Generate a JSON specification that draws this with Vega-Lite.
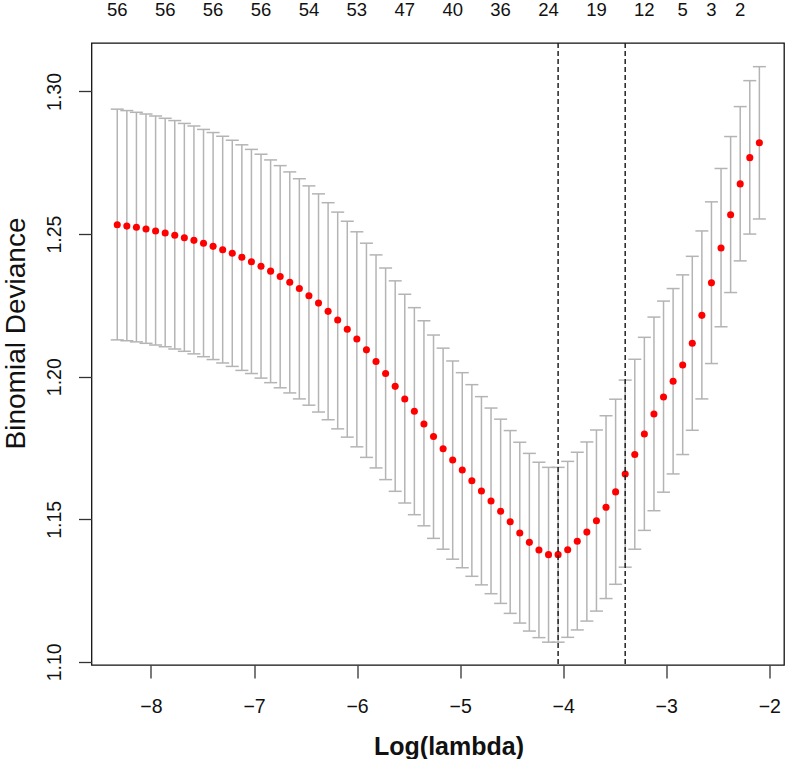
{
  "$schema": "https://vega.github.io/schema/vega-lite/v6.json",
  "width": 692.5,
  "height": 622,
  "autosize": {"type": "none"},
  "padding": {"left": 91.5, "top": 43, "right": 2, "bottom": 94},
  "background": "white",
  "config": {
    "font": "Liberation Sans",
    "view": {"stroke": "#111", "strokeWidth": 1.3},
    "axis": {"grid": false, "domain": false, "labelColor": "#111", "titleColor": "#111", "tickColor": "#333", "tickWidth": 1.3}
  },
  "datasets": {
    "cv": [
      {"loglambda": -8.327, "cvm": 1.2533, "cvup": 1.2938, "cvlo": 1.2129},
      {"loglambda": -8.234, "cvm": 1.2528, "cvup": 1.2933, "cvlo": 1.2126},
      {"loglambda": -8.141, "cvm": 1.2524, "cvup": 1.2927, "cvlo": 1.2122},
      {"loglambda": -8.048, "cvm": 1.2518, "cvup": 1.2921, "cvlo": 1.2117},
      {"loglambda": -7.955, "cvm": 1.2511, "cvup": 1.2914, "cvlo": 1.2111},
      {"loglambda": -7.862, "cvm": 1.2504, "cvup": 1.2906, "cvlo": 1.2105},
      {"loglambda": -7.769, "cvm": 1.2496, "cvup": 1.2898, "cvlo": 1.2097},
      {"loglambda": -7.676, "cvm": 1.2487, "cvup": 1.2888, "cvlo": 1.2089},
      {"loglambda": -7.583, "cvm": 1.2478, "cvup": 1.2879, "cvlo": 1.2080},
      {"loglambda": -7.490, "cvm": 1.2468, "cvup": 1.2867, "cvlo": 1.2070},
      {"loglambda": -7.397, "cvm": 1.2457, "cvup": 1.2856, "cvlo": 1.2060},
      {"loglambda": -7.304, "cvm": 1.2445, "cvup": 1.2843, "cvlo": 1.2048},
      {"loglambda": -7.211, "cvm": 1.2433, "cvup": 1.2829, "cvlo": 1.2036},
      {"loglambda": -7.118, "cvm": 1.2419, "cvup": 1.2813, "cvlo": 1.2022},
      {"loglambda": -7.025, "cvm": 1.2403, "cvup": 1.2797, "cvlo": 1.2011},
      {"loglambda": -6.932, "cvm": 1.2387, "cvup": 1.2780, "cvlo": 1.1995},
      {"loglambda": -6.839, "cvm": 1.2370, "cvup": 1.2760, "cvlo": 1.1979},
      {"loglambda": -6.746, "cvm": 1.2351, "cvup": 1.2740, "cvlo": 1.1961},
      {"loglambda": -6.653, "cvm": 1.2331, "cvup": 1.2718, "cvlo": 1.1943},
      {"loglambda": -6.560, "cvm": 1.2309, "cvup": 1.2694, "cvlo": 1.1922},
      {"loglambda": -6.467, "cvm": 1.2284, "cvup": 1.2669, "cvlo": 1.1900},
      {"loglambda": -6.374, "cvm": 1.2258, "cvup": 1.2641, "cvlo": 1.1876},
      {"loglambda": -6.281, "cvm": 1.2229, "cvup": 1.2610, "cvlo": 1.1849},
      {"loglambda": -6.188, "cvm": 1.2199, "cvup": 1.2577, "cvlo": 1.1817},
      {"loglambda": -6.095, "cvm": 1.2166, "cvup": 1.2545, "cvlo": 1.1788},
      {"loglambda": -6.002, "cvm": 1.2132, "cvup": 1.2508, "cvlo": 1.1754},
      {"loglambda": -5.909, "cvm": 1.2094, "cvup": 1.2468, "cvlo": 1.1717},
      {"loglambda": -5.816, "cvm": 1.2053, "cvup": 1.2427, "cvlo": 1.1680},
      {"loglambda": -5.723, "cvm": 1.2011, "cvup": 1.2381, "cvlo": 1.1639},
      {"loglambda": -5.630, "cvm": 1.1966, "cvup": 1.2336, "cvlo": 1.1598},
      {"loglambda": -5.537, "cvm": 1.1922, "cvup": 1.2289, "cvlo": 1.1557},
      {"loglambda": -5.444, "cvm": 1.1879, "cvup": 1.2242, "cvlo": 1.1516},
      {"loglambda": -5.351, "cvm": 1.1834, "cvup": 1.2196, "cvlo": 1.1477},
      {"loglambda": -5.258, "cvm": 1.1790, "cvup": 1.2146, "cvlo": 1.1433},
      {"loglambda": -5.165, "cvm": 1.1747, "cvup": 1.2100, "cvlo": 1.1395},
      {"loglambda": -5.072, "cvm": 1.1708, "cvup": 1.2055, "cvlo": 1.1360},
      {"loglambda": -4.979, "cvm": 1.1673, "cvup": 1.2014, "cvlo": 1.1330},
      {"loglambda": -4.886, "cvm": 1.1635, "cvup": 1.1972, "cvlo": 1.1300},
      {"loglambda": -4.793, "cvm": 1.1599, "cvup": 1.1930, "cvlo": 1.1270},
      {"loglambda": -4.700, "cvm": 1.1564, "cvup": 1.1890, "cvlo": 1.1239},
      {"loglambda": -4.607, "cvm": 1.1528, "cvup": 1.1851, "cvlo": 1.1205},
      {"loglambda": -4.514, "cvm": 1.1491, "cvup": 1.1811, "cvlo": 1.1170},
      {"loglambda": -4.421, "cvm": 1.1452, "cvup": 1.1770, "cvlo": 1.1136},
      {"loglambda": -4.328, "cvm": 1.1419, "cvup": 1.1731, "cvlo": 1.1108},
      {"loglambda": -4.235, "cvm": 1.1392, "cvup": 1.1700, "cvlo": 1.1085},
      {"loglambda": -4.142, "cvm": 1.1376, "cvup": 1.1682, "cvlo": 1.1069},
      {"loglambda": -4.049, "cvm": 1.1376, "cvup": 1.1682, "cvlo": 1.1069},
      {"loglambda": -3.956, "cvm": 1.1393, "cvup": 1.1703, "cvlo": 1.1086},
      {"loglambda": -3.863, "cvm": 1.1423, "cvup": 1.1735, "cvlo": 1.1112},
      {"loglambda": -3.770, "cvm": 1.1455, "cvup": 1.1771, "cvlo": 1.1143},
      {"loglambda": -3.677, "cvm": 1.1495, "cvup": 1.1813, "cvlo": 1.1178},
      {"loglambda": -3.584, "cvm": 1.1542, "cvup": 1.1863, "cvlo": 1.1222},
      {"loglambda": -3.491, "cvm": 1.1596, "cvup": 1.1921, "cvlo": 1.1272},
      {"loglambda": -3.398, "cvm": 1.1659, "cvup": 1.1988, "cvlo": 1.1332},
      {"loglambda": -3.305, "cvm": 1.1727, "cvup": 1.2061, "cvlo": 1.1395},
      {"loglambda": -3.212, "cvm": 1.1799, "cvup": 1.2138, "cvlo": 1.1461},
      {"loglambda": -3.119, "cvm": 1.1869, "cvup": 1.2209, "cvlo": 1.1530},
      {"loglambda": -3.026, "cvm": 1.1929, "cvup": 1.2265, "cvlo": 1.1595},
      {"loglambda": -2.933, "cvm": 1.1984, "cvup": 1.2309, "cvlo": 1.1659},
      {"loglambda": -2.840, "cvm": 1.2041, "cvup": 1.2357, "cvlo": 1.1727},
      {"loglambda": -2.747, "cvm": 1.2117, "cvup": 1.2422, "cvlo": 1.1812},
      {"loglambda": -2.654, "cvm": 1.2215, "cvup": 1.2511, "cvlo": 1.1922},
      {"loglambda": -2.561, "cvm": 1.2329, "cvup": 1.2613, "cvlo": 1.2046},
      {"loglambda": -2.468, "cvm": 1.2451, "cvup": 1.2730, "cvlo": 1.2175},
      {"loglambda": -2.375, "cvm": 1.2568, "cvup": 1.2842, "cvlo": 1.2295},
      {"loglambda": -2.282, "cvm": 1.2676, "cvup": 1.2947, "cvlo": 1.2406},
      {"loglambda": -2.189, "cvm": 1.2768, "cvup": 1.3038, "cvlo": 1.2500},
      {"loglambda": -2.096, "cvm": 1.2820, "cvup": 1.3087, "cvlo": 1.2553}
    ],
    "selected": [
      {"loglambda": -4.049, "which": "lambda.min"},
      {"loglambda": -3.398, "which": "lambda.1se"}
    ],
    "nonzero": [
      {"loglambda": -8.327, "nz": "56"},
      {"loglambda": -7.862, "nz": "56"},
      {"loglambda": -7.397, "nz": "56"},
      {"loglambda": -6.932, "nz": "56"},
      {"loglambda": -6.467, "nz": "54"},
      {"loglambda": -6.002, "nz": "53"},
      {"loglambda": -5.537, "nz": "47"},
      {"loglambda": -5.072, "nz": "40"},
      {"loglambda": -4.607, "nz": "36"},
      {"loglambda": -4.142, "nz": "24"},
      {"loglambda": -3.677, "nz": "19"},
      {"loglambda": -3.212, "nz": "12"},
      {"loglambda": -2.840, "nz": "5"},
      {"loglambda": -2.561, "nz": "3"},
      {"loglambda": -2.282, "nz": "2"}
    ]
  },
  "layer": [
    {
      "data": {"name": "cv"},
      "mark": {"type": "rule", "color": "#b4b4b4", "strokeWidth": 1.5},
      "encoding": {
        "x": {
          "field": "loglambda", "type": "quantitative",
          "scale": {"domain": [-8.577, -1.857], "nice": false, "zero": false},
          "axis": {
            "values": [-8, -7, -6, -5, -4, -3, -2], "format": "d",
            "tickSize": 13, "labelFontSize": 19.5, "labelPadding": 19,
            "title": "Log(lambda)", "titleFontSize": 25, "titleFontWeight": "bold",
            "titleBaseline": "alphabetic", "titleAlign": "center", "titleX": 357, "titleY": 89
          }
        },
        "y": {
          "field": "cvlo", "type": "quantitative",
          "scale": {"domain": [1.0989, 1.317], "nice": false, "zero": false},
          "axis": {
            "values": [1.1, 1.15, 1.2, 1.25, 1.3], "format": ".2f",
            "tickSize": 13, "labelFontSize": 19.5, "labelAngle": 270,
            "labelAlign": "center", "labelBaseline": "bottom", "labelPadding": 14.5,
            "title": "Binomial Deviance", "titleFontSize": 28, "titleFontWeight": "normal",
            "titleAngle": 270, "titleAlign": "center", "titleBaseline": "alphabetic",
            "titleX": -67.5, "titleY": 290
          }
        },
        "y2": {"field": "cvup"}
      }
    },
    {
      "data": {"name": "cv"},
      "mark": {"type": "tick", "orient": "horizontal", "size": 13, "thickness": 1.5, "color": "#b4b4b4", "opacity": 1},
      "encoding": {
        "x": {"field": "loglambda", "type": "quantitative"},
        "y": {"field": "cvup", "type": "quantitative"}
      }
    },
    {
      "data": {"name": "cv"},
      "mark": {"type": "tick", "orient": "horizontal", "size": 13, "thickness": 1.5, "color": "#b4b4b4", "opacity": 1},
      "encoding": {
        "x": {"field": "loglambda", "type": "quantitative"},
        "y": {"field": "cvlo", "type": "quantitative"}
      }
    },
    {
      "data": {"name": "cv"},
      "mark": {"type": "circle", "color": "#ff0000", "size": 50, "opacity": 1},
      "encoding": {
        "x": {"field": "loglambda", "type": "quantitative"},
        "y": {"field": "cvm", "type": "quantitative"}
      }
    },
    {
      "data": {"name": "selected"},
      "mark": {"type": "rule", "color": "#222", "strokeWidth": 1.5, "strokeDash": [5, 3]},
      "encoding": {
        "x": {"field": "loglambda", "type": "quantitative"}
      }
    },
    {
      "data": {"name": "nonzero"},
      "mark": {"type": "text", "fontSize": 18.5, "color": "#111", "baseline": "alphabetic", "align": "center"},
      "encoding": {
        "x": {"field": "loglambda", "type": "quantitative"},
        "y": {"datum": 1.32647, "type": "quantitative"},
        "text": {"field": "nz"}
      }
    }
  ]
}
